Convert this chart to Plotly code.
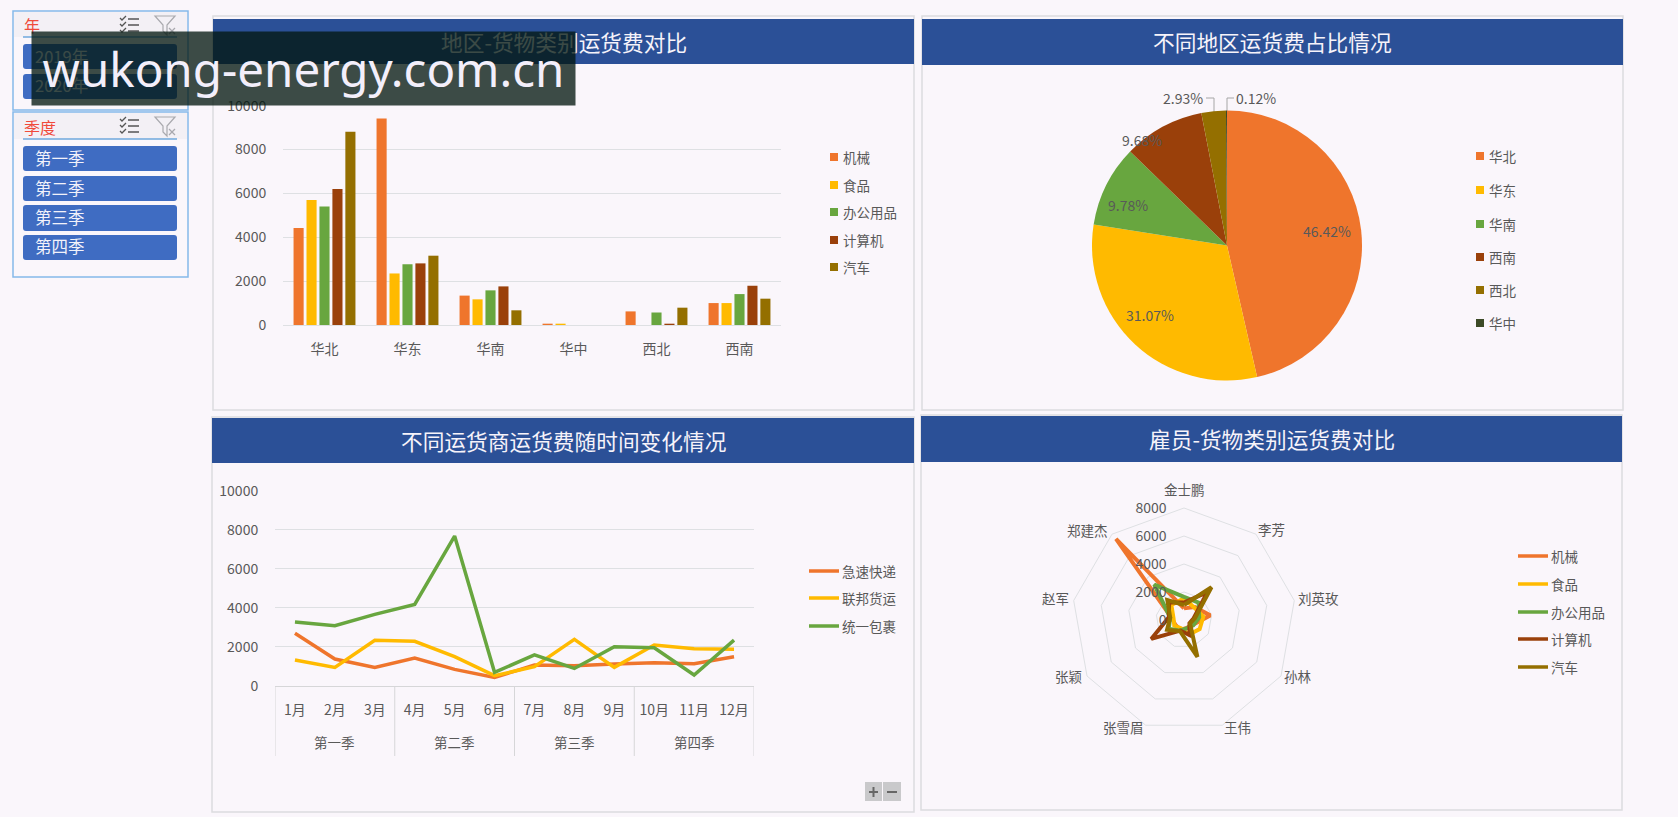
import plotly.graph_objects as go

W, H = 1678, 817
BG = "#FAF6FB"
HEADER = "#2B5097"
GRID = "#DEE0E3"
TEXT = "#595959"
FONT = "Noto Sans CJK SC"

goods = ["机械", "食品", "办公用品", "计算机", "汽车"]
goods_colors = ["#EF752C", "#FFBA00", "#68A63F", "#9A400A", "#946F00"]

regions = ["华北", "华东", "华南", "华中", "西北", "西南"]
freight_machinery = [4420, 9420, 1340, 60, 620, 1000]
freight_food = [5700, 2350, 1170, 60, 0, 1000]
freight_office = [5400, 2770, 1580, 0, 570, 1410]
freight_computer = [6200, 2810, 1760, 0, 50, 1790]
freight_car = [8810, 3160, 670, 0, 790, 1200]

pie_regions = ["华北", "华东", "华南", "西南", "西北", "华中"]
pie_share = [46.42, 31.07, 9.78, 9.68, 2.93, 0.12]
pie_colors = ["#EF752C", "#FFBA00", "#68A63F", "#9A400A", "#946F00", "#3C4A26"]

quarters = ["第一季", "第二季", "第三季", "第四季"]
quarter_mid_month = ["2月", "5月", "8月", "11月"]
month_row = ["1月", "2月", "3月", "4月", "5月", "6月", "7月", "8月", "9月", "10月", "11月", "12月"]
carriers = ["急速快递", "联邦货运", "统一包裹"]
carrier_colors = ["#EF752C", "#FFBA00", "#68A63F"]
express = [2700, 1380, 955, 1430, 850, 440, 1075, 1040, 1125, 1190, 1140, 1500]
federal = [1330, 955, 2340, 2290, 1500, 530, 990, 2390, 955, 2100, 1910, 1880]
united = [3280, 3090, 3670, 4180, 7680, 700, 1590, 900, 2010, 1960, 560, 2350]

employees = ["金士鹏", "李芳", "刘英玫", "孙林", "王伟", "张雪眉", "张颖", "赵军", "郑建杰"]
emp_machinery = [830, 1200, 1900, 700, 600, 760, 700, 900, 7560]
emp_food = [1550, 1150, 1400, 1290, 1100, 620, 800, 760, 1400]
emp_office = [1650, 1620, 1100, 760, 620, 810, 1260, 1000, 3300]
emp_computer = [1250, 2600, 700, 450, 1150, 800, 2700, 1100, 1650]
emp_car = [1070, 3050, 800, 500, 2800, 850, 1400, 1000, 1850]


def px(x):
    return x / W


def py(y):
    return 1 - y / H


def rounded(x0, y0, x1, y1, r):
    # rounded rectangle as an svg path, in paper fractions
    rx, ry = r / W, r / H
    a, b, c, d = px(x0), px(x1), py(y0), py(y1)
    return (f"M{a + rx},{c} L{b - rx},{c} Q{b},{c} {b},{c - ry} L{b},{d + ry} Q{b},{d} {b - rx},{d} "
            f"L{a + rx},{d} Q{a},{d} {a},{d + ry} L{a},{c - ry} Q{a},{c} {a + rx},{c} Z")


shapes = []
annotations = []


def rect(x0, y0, x1, y1, fill=None, line=None, width=1):
    shapes.append(dict(type="rect", xref="paper", yref="paper", layer="below",
                       x0=px(x0), x1=px(x1), y0=py(y0), y1=py(y1),
                       fillcolor=fill or "rgba(0,0,0,0)",
                       line=dict(color=line or "rgba(0,0,0,0)", width=width if line else 0)))


def seg(x0, y0, x1, y1, color=GRID, width=1, layer="below"):
    shapes.append(dict(type="line", xref="paper", yref="paper", layer=layer,
                       x0=px(x0), x1=px(x1), y0=py(y0), y1=py(y1),
                       line=dict(color=color, width=width)))


def label(x, y, text, size=13.5, color=TEXT, anchor="left", family=FONT):
    annotations.append(dict(xref="paper", yref="paper", x=px(x), y=py(y), text=text, showarrow=False,
                            xanchor=anchor, yanchor="middle", font=dict(family=family, size=size, color=color)))


def square_legend(x, ys, names, colors):
    for y, name, color in zip(ys, names, colors):
        rect(x, y - 4, x + 8, y + 4, fill=color)
        label(x + 11, y, name)


def line_legend(x, ys, names, colors):
    for y, name, color in zip(ys, names, colors):
        seg(x, y, x + 30, y, color=color, width=3.5)
        label(x + 31, y, name)


# panels
panels = [
    (213, 16, 914, 410, 19, 64, "地区-货物类别运货费对比"),
    (922, 16, 1623, 410, 19, 65, "不同地区运货费占比情况"),
    (212, 417, 914, 812, 418, 463, "不同运货商运货费随时间变化情况"),
    (921, 415, 1622, 810, 416, 462, "雇员-货物类别运货费对比"),
]
for x0, y0, x1, y1, h0, h1, title in panels:
    rect(x0, y0, x1, y1, line="#DCDCDF", width=1.5)
    rect(x0, h0, x1, h1, fill=HEADER)
    label((x0 + x1) / 2, (h0 + h1) / 2, title, size=21.7, color="#F6F3FA", anchor="center")


# slicers
def slicer(y0, y1, title, head_bottom, buttons):
    rect(13, y0, 188, y1, line="#85B9EA", width=1.5)
    rect(14, y0 + 1, 187, head_bottom, fill="#F3F0F5")
    seg(23, head_bottom, 177, head_bottom, color="#6FA8DC", width=1.5)
    label(22, (y0 + head_bottom) / 2 + 1, title, size=16, color="#F04A3A")
    # select-all icon
    top = y0 + 5
    for i in range(3):
        yy = top + 3 + i * 6
        seg(128, yy, 139, yy, color="#555555", width=1.5)
        shapes.append(dict(type="path", xref="paper", yref="paper", layer="below",
                           path=f"M{px(120)},{py(yy - 1)} L{px(122)},{py(yy + 1)} L{px(126)},{py(yy - 3)}",
                           line=dict(color="#555555", width=1.3)))
    # clear filter icon
    shapes.append(dict(type="path", xref="paper", yref="paper", layer="below",
                       path=(f"M{px(155)},{py(top)} L{px(175)},{py(top)} L{px(167)},{py(top + 9)} "
                             f"L{px(167)},{py(top + 19)} L{px(163)},{py(top + 15)} L{px(163)},{py(top + 9)} Z"),
                       line=dict(color="#A9A9AE", width=1.2)))
    seg(169, top + 12, 175, top + 18, color="#A9A9AE", width=1.2)
    seg(175, top + 12, 169, top + 18, color="#A9A9AE", width=1.2)
    for by0, by1, text in buttons:
        shapes.append(dict(type="path", xref="paper", yref="paper", layer="below",
                           path=rounded(23, by0, 177, by1, 3), fillcolor="#3F6CC2", line=dict(width=0)))
        label(33, (by0 + by1) / 2 - 1, text, size=16.5, color="#F2F2FA")


slicer(11, 110, "年", 37, [(44, 69, "2019年"), (74, 99, "2020年")])
slicer(112, 277, "季度", 139, [(146, 171, "第一季"), (176, 201, "第二季"), (205, 231, "第三季"), (235, 260, "第四季")])

# zoom buttons of the pivot chart
rect(865, 782, 882, 801, fill="#C9C9CB")
rect(883, 782, 901, 801, fill="#C9C9CB")
seg(869, 792, 878, 792, color="#666666", width=2)
seg(873.5, 787, 873.5, 797, color="#666666", width=2)
seg(887, 792, 897, 792, color="#666666", width=2)

square_legend(830, [157, 185, 212, 240, 267], goods, goods_colors)
square_legend(1476, [156, 190, 224, 257, 290, 323], pie_regions, pie_colors)
line_legend(809, [571, 598, 626], carriers, carrier_colors)
line_legend(1518, [556, 584, 612, 639, 667], goods, goods_colors)

# pie labels and leaders
label(1327, 231, f"{pie_share[0]:.2f}%", anchor="center", size=14)
label(1150, 315, f"{pie_share[1]:.2f}%", anchor="center", size=14)
label(1128, 205, f"{pie_share[2]:.2f}%", anchor="center", size=14)
label(1142, 140, f"{pie_share[3]:.2f}%", anchor="center", size=14)
label(1183, 98, f"{pie_share[4]:.2f}%", anchor="center", size=14)
label(1256, 98, f"{pie_share[5]:.2f}%", anchor="center", size=14)
seg(1206, 98, 1214, 98, color="#A6A6A6")
seg(1214, 98, 1214, 112, color="#A6A6A6")
seg(1234, 98, 1227, 98, color="#A6A6A6")
seg(1227, 98, 1227, 112, color="#A6A6A6")

# quarter row below the month ticks
for quarter, month in zip(quarters, quarter_mid_month):
    annotations.append(dict(xref="x2", yref="paper", x=month, y=py(742), text=quarter, showarrow=False,
                            yanchor="middle", font=dict(family=FONT, size=13.5, color=TEXT)))
for i in range(5):
    shapes.append(dict(type="line", xref="x2", yref="paper", layer="below", x0=i * 3 - 0.5, x1=i * 3 - 0.5,
                       y0=py(686), y1=py(756), line=dict(color="#D6D6D8", width=1)))

# radar category labels sit beside the vertices, closer than plotly's own ticks
radar_label_pos = [(1184, 489), (1271, 529), (1318, 598), (1298, 676), (1237, 727),
                   (1123, 727), (1068, 676), (1055, 598), (1087, 530)]
for name, (lx, ly) in zip(employees, radar_label_pos):
    label(lx, ly, name, anchor="center")

fig = go.Figure()

# bars
bar_series = [freight_machinery, freight_food, freight_office, freight_computer, freight_car]
for name, values, color in zip(goods, bar_series, goods_colors):
    fig.add_trace(go.Bar(x=regions, y=values, name=name, marker=dict(color=color, line=dict(width=0)),
                         xaxis="x", yaxis="y"))

# pie
fig.add_trace(go.Pie(labels=pie_regions, values=pie_share, sort=False, direction="clockwise", rotation=0,
                     textinfo="none", marker=dict(colors=pie_colors, line=dict(width=0)),
                     domain=dict(x=[px(1227 - 135), px(1227 + 135)], y=[py(245.5 + 135), py(245.5 - 135)])))

# lines
for name, values, color in zip(carriers, [express, federal, united], carrier_colors):
    fig.add_trace(go.Scatter(x=month_row, y=values, name=name, mode="lines",
                             line=dict(color=color, width=3.5), xaxis="x2", yaxis="y2"))

# radar
emp_series = [emp_machinery, emp_food, emp_office, emp_computer, emp_car]
for name, values, color in zip(goods, emp_series, goods_colors):
    fig.add_trace(go.Scatterpolar(r=values + values[:1], theta=employees + employees[:1], name=name, mode="lines",
                                  line=dict(color=color, width=4), subplot="polar"))

axis_font = dict(family=FONT, size=14, color=TEXT)

fig.update_layout(
    width=W, height=H, autosize=False,
    margin=dict(l=0, r=0, t=0, b=0, autoexpand=False),
    paper_bgcolor=BG, plot_bgcolor="rgba(0,0,0,0)",
    showlegend=False,
    barmode="group", bargap=0.22, bargroupgap=0.22,
    font=axis_font,
    shapes=shapes,
    xaxis=dict(domain=[px(283), px(781)], anchor="y", showgrid=False, showline=True, linecolor=GRID,
               ticks="outside", ticklen=11, tickcolor="rgba(0,0,0,0)", tickfont=axis_font, zeroline=False),
    yaxis=dict(domain=[py(325), py(105.7)], anchor="x", range=[0, 10000], dtick=2000, gridcolor=GRID,
               zeroline=False, ticks="outside", ticklen=13, tickcolor="rgba(0,0,0,0)", tickfont=axis_font,
               tickformat="d"),
    xaxis2=dict(domain=[px(275), px(754)], anchor="y2", showgrid=False, showline=True, linecolor="#D6D6D8",
                categoryorder="array", categoryarray=month_row, range=[-0.5, 11.5],
                ticks="outside", ticklen=11, tickcolor="rgba(0,0,0,0)", tickfont=axis_font, zeroline=False),
    yaxis2=dict(domain=[py(686), py(490.7)], anchor="x2", range=[0, 10000], dtick=2000, gridcolor=GRID,
                zeroline=False, ticks="outside", ticklen=13, tickcolor="rgba(0,0,0,0)", tickfont=axis_font,
                tickformat="d"),
    polar=dict(
        domain=dict(x=[px(1184 - 112), px(1184 + 112)], y=[py(620 + 112), py(620 - 112)]),
        bgcolor="rgba(0,0,0,0)",
        gridshape="linear",
        radialaxis=dict(range=[0, 8000], dtick=2000, angle=90, tickangle=90, side="counterclockwise",
                        showline=False, gridcolor=GRID, ticks="outside", ticklen=12,
                        tickcolor="rgba(0,0,0,0)", tickfont=axis_font, tickformat="d"),
        angularaxis=dict(direction="clockwise", rotation=90, showgrid=False, linecolor=GRID,
                         ticks="", showticklabels=False),
    ),
)

# watermark goes last so it sits over the slicers and the first title
annotations.append(dict(xref="paper", yref="paper", x=px(31), y=py(31), xanchor="left", yanchor="top",
                        width=541, height=71, align="center", valign="middle", showarrow=False,
                        text="wukong-energy.com.cn", bgcolor="rgba(3,24,16,0.77)",
                        font=dict(family="Noto Sans", size=47.5, color="#F3EFFB")))
fig.update_layout(annotations=annotations)

fig.write_html("out.html", config=dict(displayModeBar=False),
               post_script="document.body.style.margin = '0';")
